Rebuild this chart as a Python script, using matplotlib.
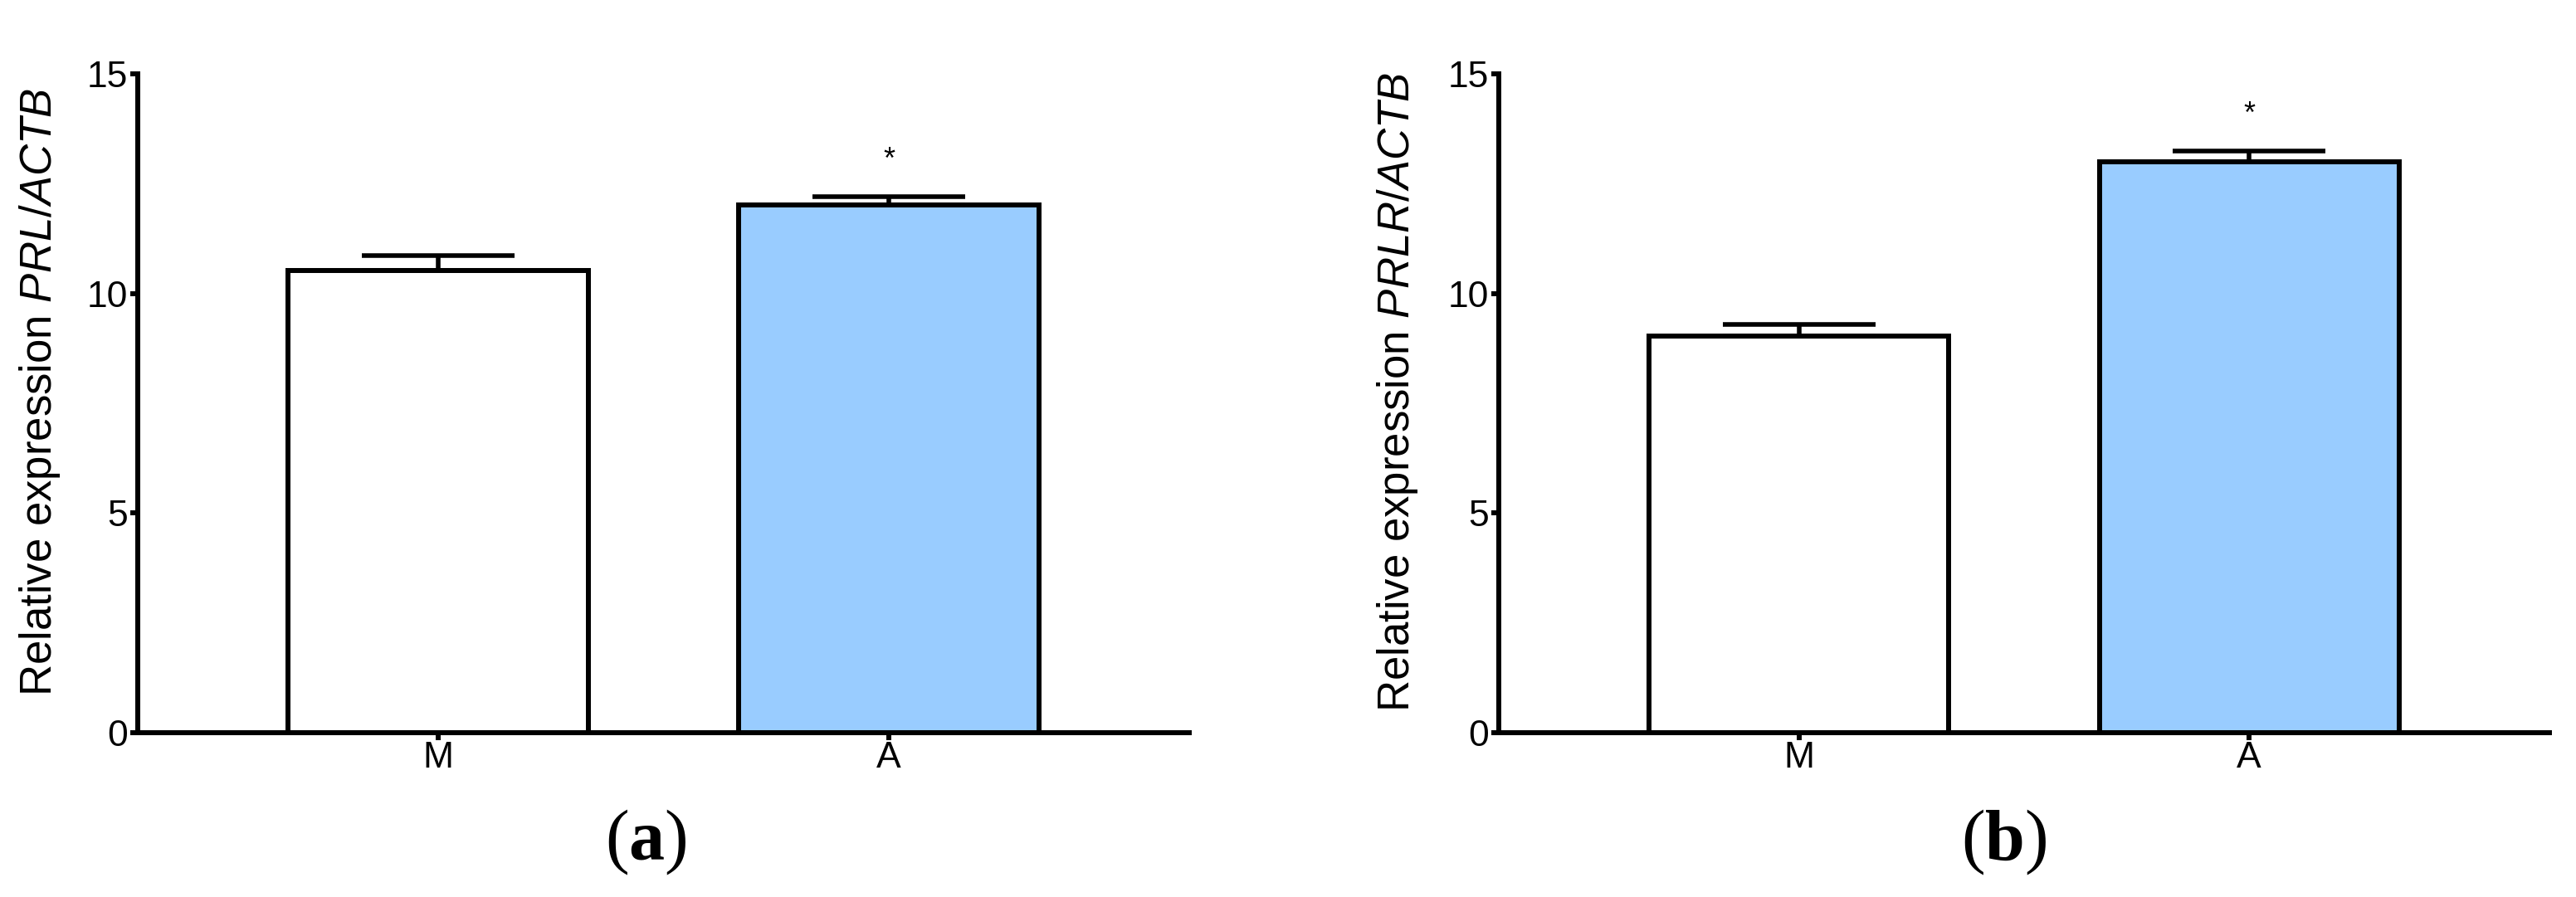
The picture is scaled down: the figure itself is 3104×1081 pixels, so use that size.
import matplotlib
matplotlib.use("Agg")
import matplotlib.pyplot as plt

plt.rcParams['font.family'] = ['Liberation Sans', 'DejaVu Sans']
plt.rcParams['mathtext.fontset'] = 'custom'
plt.rcParams['mathtext.rm'] = 'Liberation Sans'
plt.rcParams['mathtext.it'] = 'Liberation Sans:italic'
plt.rcParams['mathtext.bf'] = 'Liberation Serif:bold'

# values
groups = ['M', 'A']
prl_mean = [10.53, 12.01]
prl_sem = [0.34, 0.20]
prlr_mean = [9.03, 12.99]
prlr_sem = [0.26, 0.25]
bar_colors = ['white', '#99CCFF']
yticks = [0, 5, 10, 15]
genes = ['PRL/ACTB', 'PRLR/ACTB']
tags = ['a', 'b']
star_gap = 0.82

W, H = 3104, 1081
fig = plt.figure(figsize=(W / 100, H / 100), dpi=100)

lw = 4.3
bottom = 1 - 883 / H
height = (883 - 89) / H
ax_left = [166 / W, 1806 / W]
ax_width = [(1433 - 166) / W, (3072 - 1806) / W]
label_x = [48 / W, 1684 / W]
tag_x = [778 / W, 2415 / W]

panels = [(prl_mean, prl_sem), (prlr_mean, prlr_sem)]

for i, (means, sems) in enumerate(panels):
    ax = fig.add_axes([ax_left[i], bottom, ax_width[i], height])
    x = range(len(groups))
    ax.bar(x, means, width=0.666, color=bar_colors, edgecolor='black',
           linewidth=lw, zorder=2)
    ax.errorbar(x, means, yerr=[[0] * len(means), sems], fmt='none',
                ecolor='black', elinewidth=4.0, capsize=66, capthick=4.0,
                zorder=3)
    # significance mark over group A
    ax.text(1, means[1] + sems[1] + star_gap, '*', ha='center', va='center',
            fontsize=26)

    ax.set_xlim(-0.667, 1.667)
    ax.set_ylim(0, 15)
    ax.set_yticks(yticks)
    ax.set_xticks(list(x))
    ax.set_xticklabels(groups)
    for s in ['top', 'right']:
        ax.spines[s].set_visible(False)
    for s in ['left', 'bottom']:
        ax.spines[s].set_linewidth(lw)
    ax.tick_params(axis='both', direction='out', length=6.5, width=lw,
                   labelsize=32, pad=2)
    ax.tick_params(axis='x', pad=1)

    fig.text(label_x[i], 1 - 472 / H,
             'Relative expression $\\mathit{' + genes[i] + '}$',
             rotation=90, ha='center', va='center', fontsize=38)
    fig.text(tag_x[i], 0.061, '($\\mathbf{' + tags[i] + '}$)',
             ha='center', va='center', fontsize=62,
             family=['Liberation Serif', 'DejaVu Serif'])

fig.savefig('out.png', dpi=100)
